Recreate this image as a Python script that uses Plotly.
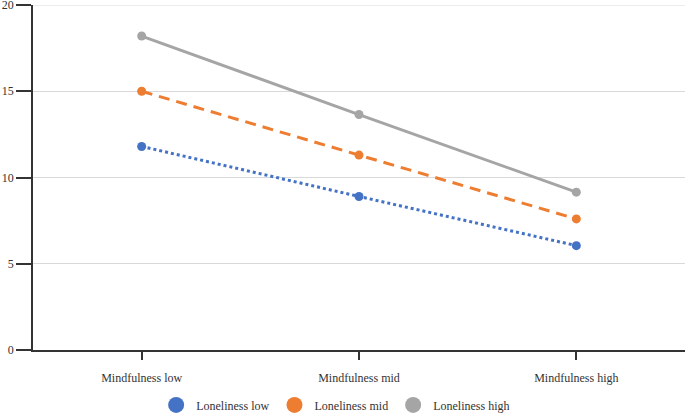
import plotly.graph_objects as go

categories = ["Mindfulness low", "Mindfulness mid", "Mindfulness high"]
series_names = ["Loneliness low", "Loneliness mid", "Loneliness high"]
lon_low = [11.8, 8.9, 6.05]
lon_mid = [15.0, 11.3, 7.6]
lon_high = [18.2, 13.65, 9.15]
y_ticks = [0, 5, 10, 15, 20]

colors = ["#4472C4", "#ED7D31", "#A5A5A5"]
dashes = ["dot", "11px,7px", "solid"]
values = [lon_low, lon_mid, lon_high]

fig = go.Figure()
for name, vals, c, d in zip(series_names, values, colors, dashes):
    fig.add_trace(go.Scatter(
        x=categories, y=vals, mode="lines+markers", name=name,
        line=dict(color=c, width=3, dash=d),
        marker=dict(color=c, size=9, symbol="circle"),
        showlegend=False, cliponaxis=False,
    ))
for name, c in zip(series_names, colors):
    fig.add_trace(go.Scatter(
        x=[None], y=[None], mode="markers", name=name,
        marker=dict(color=c, size=16, symbol="circle"),
        showlegend=True,
    ))

# gridline at the top end of the axis (plotly drops grid lines on the plot edge)
fig.add_hline(y=y_ticks[-1], line=dict(color="#d9d9d9", width=1), layer="below")

font = dict(family="Liberation Serif, Times New Roman, serif", size=12, color="#333333")
fig.update_layout(
    width=685, height=414,
    margin=dict(l=33, r=0, t=5, b=64, autoexpand=False),
    paper_bgcolor="white", plot_bgcolor="white",
    font=font,
    legend=dict(orientation="h", x=0.49, xref="container", xanchor="center",
                y=0.022, yref="container", yanchor="middle",
                font=dict(family="Liberation Serif, serif", size=12, color="#333333"),
                itemwidth=30, tracegroupgap=0),
    xaxis=dict(type="category", range=[-0.5, 2.5], showgrid=False, automargin=False,
               showline=True, linecolor="#333333", linewidth=1.5,
               ticks="outside", ticklen=8, tickcolor="#333333", tickwidth=1.5,
               ticklabelstandoff=8,
               tickfont=font, fixedrange=True),
    yaxis=dict(range=[0, 20], tickvals=y_ticks, showgrid=True, gridcolor="#d9d9d9", gridwidth=1,
               automargin=False, ticklabeloverflow="allow",
               showline=True, linecolor="#333333", linewidth=1.5, zeroline=False,
               ticks="outside", ticklen=15, tickcolor="#333333", tickwidth=1.5,
               tickfont=font, fixedrange=True),
)
fig.write_html("out.html", config={"displayModeBar": False},
               post_script="document.body.style.margin='0';")
